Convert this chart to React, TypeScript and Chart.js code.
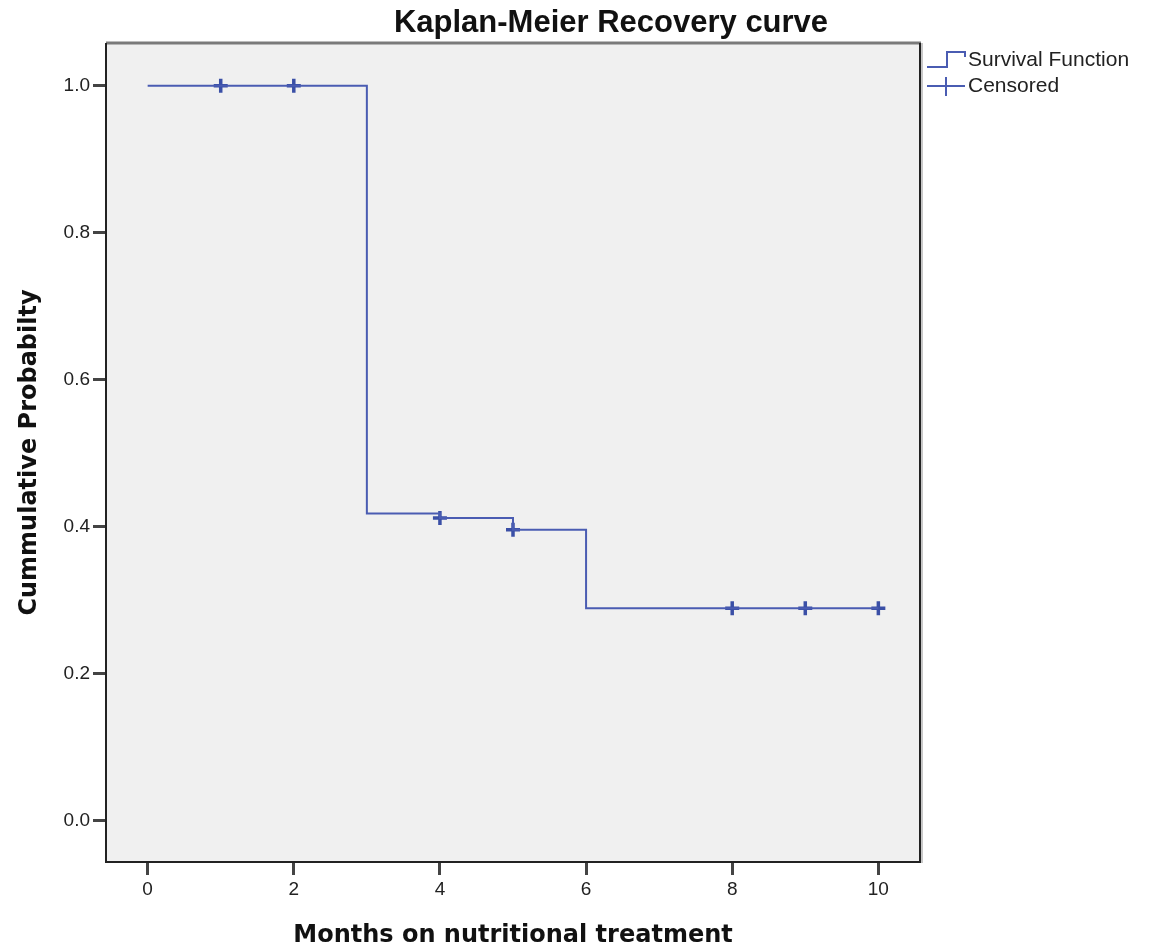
import React, { useEffect, useRef } from "react";
import { Chart, registerables } from "chart.js";

Chart.register(...registerables);

const chartTitle = "Kaplan-Meier Recovery curve";
const xAxisTitle = "Months on nutritional treatment";
const yAxisTitle = "Cummulative Probabilty";

const survivalTimes = [0, 3, 4, 5, 6, 10];
const survivalProb = [1.0, 0.418, 0.412, 0.396, 0.289, 0.289];

const censoredTimes = [1, 2, 4, 5, 8, 9, 10];
const censoredProb = [1.0, 1.0, 0.412, 0.396, 0.289, 0.289, 0.289];

const xTickValues = [0, 2, 4, 6, 8, 10];
const yTickValues = [0, 0.2, 0.4, 0.6, 0.8, 1.0];

const legendLabels = ["Survival Function", "Censored"];

const LINE_COLOR = "#4a5cb2";
const MARK_COLOR = "#3a4fa6";

const framePlugin = {
  id: "frame",
  beforeDraw(chart: any) {
    const { ctx, chartArea: a } = chart;
    ctx.save();
    ctx.fillStyle = "#f0f0f0";
    ctx.fillRect(a.left, a.top, a.right - a.left, a.bottom - a.top);
    ctx.restore();
  },
  afterDraw(chart: any) {
    const { ctx, chartArea: a } = chart;
    ctx.save();
    // right shadow
    ctx.strokeStyle = "#c8c8c8";
    ctx.lineWidth = 2;
    ctx.beginPath();
    ctx.moveTo(a.right + 2, a.top);
    ctx.lineTo(a.right + 2, a.bottom + 1);
    ctx.stroke();
    // top
    ctx.strokeStyle = "#7a7a7a";
    ctx.lineWidth = 3;
    ctx.beginPath();
    ctx.moveTo(a.left, a.top);
    ctx.lineTo(a.right + 1, a.top);
    ctx.stroke();
    // left, bottom, right
    ctx.strokeStyle = "#222";
    ctx.lineWidth = 2;
    ctx.beginPath();
    ctx.moveTo(a.left, a.top);
    ctx.lineTo(a.left, a.bottom);
    ctx.lineTo(a.right, a.bottom);
    ctx.lineTo(a.right, a.top);
    ctx.stroke();

    // title
    ctx.fillStyle = "#111";
    ctx.font = "bold 31px 'Liberation Sans', Arial, sans-serif";
    ctx.textAlign = "center";
    ctx.textBaseline = "alphabetic";
    ctx.fillText(chartTitle, 611, 32);

    // legend
    const lx = a.right + 7;
    ctx.font = "21px 'Liberation Sans', Arial, sans-serif";
    ctx.textAlign = "left";
    ctx.textBaseline = "middle";
    ctx.fillStyle = "#222";
    ctx.fillText(legendLabels[0], lx + 41, 60);
    ctx.fillText(legendLabels[1], lx + 41, 86);
    // step icon
    ctx.strokeStyle = LINE_COLOR;
    ctx.lineWidth = 2;
    ctx.beginPath();
    ctx.moveTo(lx, 67);
    ctx.lineTo(lx + 20, 67);
    ctx.lineTo(lx + 20, 52);
    ctx.lineTo(lx + 38, 52);
    ctx.lineTo(lx + 38, 57);
    ctx.stroke();
    // cross icon
    ctx.beginPath();
    ctx.moveTo(lx, 86);
    ctx.lineTo(lx + 38, 86);
    ctx.moveTo(lx + 19, 77);
    ctx.lineTo(lx + 19, 96);
    ctx.stroke();
    ctx.restore();
  },
};

export default function App() {
  const ref = useRef<HTMLCanvasElement | null>(null);
  useEffect(() => {
    if (!ref.current) return;
    const tickFont = { family: "'Liberation Sans', Arial, sans-serif", size: 19 };
    const titleFont = { family: "'DejaVu Sans', Verdana, sans-serif", size: 24, weight: "bold" as const };
    const chart = new Chart(ref.current, {
      type: "line",
      data: {
        datasets: [
          {
            label: legendLabels[0],
            data: survivalTimes.map((t, i) => ({ x: t, y: survivalProb[i] })),
            borderColor: LINE_COLOR,
            borderWidth: 2,
            stepped: "before",
            pointRadius: 0,
            fill: false,
          },
          {
            label: legendLabels[1],
            type: "scatter",
            data: censoredTimes.map((t, i) => ({ x: t, y: censoredProb[i] })),
            pointStyle: "cross",
            pointRadius: 7,
            pointBorderWidth: 3.5,
            pointBorderColor: MARK_COLOR,
            pointBackgroundColor: MARK_COLOR,
            showLine: false,
          } as any,
        ],
      },
      options: {
        responsive: false,
        animation: false,
        layout: { padding: { left: 0, top: 43, right: 231, bottom: 0 } },
        plugins: {
          legend: { display: false },
          title: { display: false },
          tooltip: { enabled: false },
        },
        scales: {
          x: {
            type: "linear",
            min: -0.57,
            max: 10.57,
            afterBuildTicks: (s: any) => {
              s.ticks = xTickValues.map((v) => ({ value: v }));
            },
            afterFit: (s: any) => {
              s.height = 89;
            },
            ticks: {
              font: tickFont,
              color: "#222",
              padding: 3,
              maxRotation: 0,
              callback: (v: any) => String(v),
            },
            grid: {
              drawOnChartArea: false,
              drawTicks: true,
              tickLength: 13,
              tickWidth: 3,
              tickColor: "#444",
            },
            border: { display: false },
            title: {
              display: true,
              text: xAxisTitle,
              font: titleFont,
              color: "#111",
              padding: { top: 0, bottom: 1 },
            },
          },
          y: {
            type: "linear",
            min: -0.056,
            max: 1.058,
            afterBuildTicks: (s: any) => {
              s.ticks = yTickValues.map((v) => ({ value: v }));
            },
            afterFit: (s: any) => {
              s.width = 106;
            },
            ticks: {
              font: tickFont,
              color: "#222",
              padding: 3,
              callback: (v: any) => Number(v).toFixed(1),
            },
            grid: {
              drawOnChartArea: false,
              drawTicks: true,
              tickLength: 13,
              tickWidth: 3,
              tickColor: "#444",
            },
            border: { display: false },
            title: {
              display: true,
              text: yAxisTitle,
              font: titleFont,
              color: "#111",
              padding: { top: 15, bottom: 0 },
            },
          },
        },
      },
      plugins: [framePlugin],
    });
    return () => chart.destroy();
  }, []);
  return (
    <div style={{ position: "absolute", left: 0, top: 0, width: 1151, height: 951, background: "#fff" }}>
      <canvas ref={ref} width={1151} height={951} style={{ width: 1151, height: 951, display: "block" }} />
    </div>
  );
}
